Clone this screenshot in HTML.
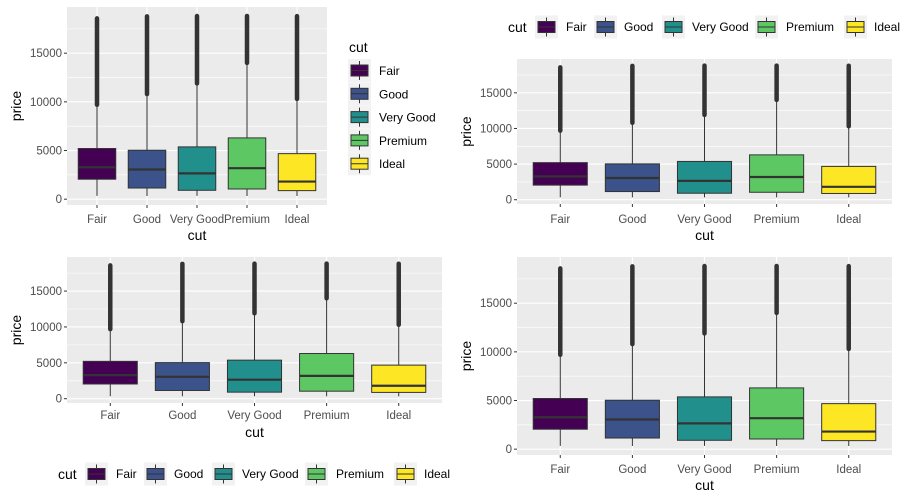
<!DOCTYPE html>
<html><head><meta charset="utf-8"><style>
body{margin:0;background:#fff;}
svg{display:block;font-family:"Liberation Sans",Arial,sans-serif;}
</style></head><body>
<svg id="c" width="900" height="500" viewBox="0 0 900 500" xmlns="http://www.w3.org/2000/svg"></svg>
<script>
const categories = ["Fair","Good","Very Good","Premium","Ideal"];
const colors = ["#440154","#3B528B","#21908C","#5DC863","#FDE725"];
const whiskerLow = [337,327,336,326,326];
const q1 = [2050,1145,912,1046,878];
const median = [3282,3050,2648,3185,1810];
const q3 = [5206,5028,5373,6296,4678];
const whiskerHigh = [9700,10800,11900,14000,10300];
const outlierMax = [18574,18788,18818,18823,18806];
const yTicks = [0,5000,10000,15000];
const yMinor = [2500,7500,12500,17500];
const yDomain = [-599,19748];

const NS="http://www.w3.org/2000/svg";
const svg=document.getElementById('c');
function el(tag,attrs,parent,text){const e=document.createElementNS(NS,tag);for(const k in attrs)e.setAttribute(k,attrs[k]);if(text!==undefined)e.textContent=text;(parent||svg).appendChild(e);return e;}

function panel(id,x0,x1,y0,y1,xLabY,xTitleY){
  const g=el('g',{});
  
  
  const ys=v=>y1-(v-yDomain[0])/(yDomain[1]-yDomain[0])*(y1-y0);
  const step=(x1-x0)/5.2;
  const xs=i=>x0+step*(i+0.6);
  const bg=el('rect',{x:x0,y:y0,width:x1-x0,height:y1-y0,fill:'#EBEBEB'},g);
  
  
  yMinor.forEach(v=>el('line',{x1:x0,x2:x1,y1:ys(v),y2:ys(v),stroke:'#fff','stroke-width':0.6},g));
  yTicks.forEach(v=>{
    el('line',{x1:x0,x2:x1,y1:ys(v),y2:ys(v),stroke:'#fff','stroke-width':1.1},g);
    el('line',{x1:x0-3,x2:x0,y1:ys(v),y2:ys(v),stroke:'#333','stroke-width':1},g);
    const t=el('text',{x:x0-5,y:ys(v)+4,'text-anchor':'end','font-size':11.5,fill:'#4D4D4D'},g,String(v));
    
    
  });
  categories.forEach((c,i)=>{
    const cx=xs(i);
    el('line',{x1:cx,x2:cx,y1:y0,y2:y1,stroke:'#fff','stroke-width':1.1},g);
    el('line',{x1:cx,x2:cx,y1:y1,y2:y1+3,stroke:'#333','stroke-width':1},g);
    const t=el('text',{x:cx,y:xLabY,'text-anchor':'middle','font-size':11.5,fill:'#4D4D4D'},g,c);
    
    
  });
  categories.forEach((c,i)=>{
    const cx=xs(i),hw=step*0.375;
    const b=el('g',{},g);
    
    
    el('line',{x1:cx,x2:cx,y1:ys(whiskerLow[i]),y2:ys(q1[i]),stroke:'#333','stroke-width':1},b);
    el('line',{x1:cx,x2:cx,y1:ys(q3[i]),y2:ys(whiskerHigh[i]),stroke:'#333','stroke-width':1},b);
    el('line',{x1:cx,x2:cx,y1:ys(whiskerHigh[i]),y2:ys(outlierMax[i]),stroke:'#333','stroke-width':4.5,'stroke-linecap':'round'},b);
    el('rect',{x:cx-hw,y:ys(q3[i]),width:hw*2,height:ys(q1[i])-ys(q3[i]),fill:colors[i],stroke:'#333','stroke-width':1},b);
    el('line',{x1:cx-hw,x2:cx+hw,y1:ys(median[i]),y2:ys(median[i]),stroke:'#333','stroke-width':2.2},b);
  });
  const xt=el('text',{x:(x0+x1)/2,y:xTitleY,'text-anchor':'middle','font-size':14,fill:'#000'},g,'cut');
  
  
  const yc=(y0+y1)/2, tx=x0-51;
  const yt=el('text',{x:tx,y:yc+5,'text-anchor':'middle','font-size':14,fill:'#000',transform:`rotate(-90 ${tx} ${yc})`},g,'price');
  
  
}
function key(g,x,y,i){
  el('rect',{x:x,y:y,width:23,height:23,fill:'#F2F2F2'},g);
  el('line',{x1:x+11.5,x2:x+11.5,y1:y+2,y2:y+21,stroke:'#333','stroke-width':1},g);
  el('rect',{x:x+3,y:y+6,width:17,height:11,fill:colors[i],stroke:'#333','stroke-width':1},g);
  el('line',{x1:x+3,x2:x+20,y1:y+11.5,y2:y+11.5,stroke:'#333','stroke-width':1},g);
}
function hLegend(id,offX,cy){
  const g=el('g',{});
  
  
  el('text',{x:offX+58,y:cy+5,'font-size':14},g,'cut');
  const kx=[85,144,212,305,394], tx=[116,174,242,336,424];
  categories.forEach((c,i)=>{
    key(g,offX+kx[i],cy-11.5,i);
    const t=el('text',{x:offX+tx[i],y:cy+4,'font-size':12,fill:'#000'},g,c);
    
    
  });
}
panel('panel-top-left',67,327,7,205,223,240);
panel('panel-top-right',517,892,59,204,223,240);
panel('panel-bottom-left',67,442,257,403,419,437);
panel('panel-bottom-right',517,892,257,455,473,490);
hLegend('legend-top-right',450,27);
hLegend('legend-bottom-left',0,474);
const vg=el('g',{});


el('text',{x:349,y:52,'font-size':14},vg,'cut');
categories.forEach((c,i)=>{
  const y=59+i*23.3;
  key(vg,348,y,i);
  const t=el('text',{x:379,y:y+16,'font-size':12,fill:'#000'},vg,c);
  
  
});
</script>
</body></html>
